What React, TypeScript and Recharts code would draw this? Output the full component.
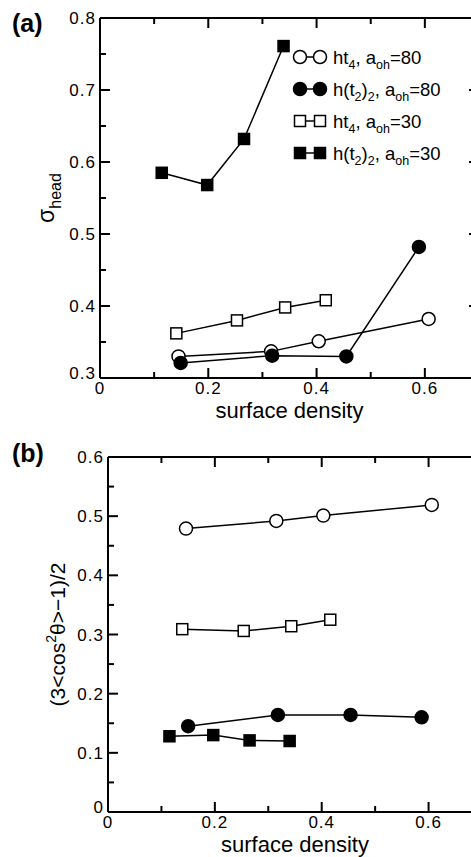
import React from 'react';
import { LineChart, Line, XAxis, YAxis, Legend, ReferenceLine } from 'recharts';

const FONT = '"Liberation Sans", Arial, Helvetica, sans-serif';

// panel (a): sigma_head vs surface density
const densHt4A80 = [0.145, 0.316, 0.404, 0.607];
const sigmaHt4A80 = [0.33, 0.337, 0.351, 0.382];
const densHt22A80 = [0.149, 0.318, 0.455, 0.589];
const sigmaHt22A80 = [0.321, 0.331, 0.33, 0.482];
const densHt4A30 = [0.141, 0.253, 0.342, 0.417];
const sigmaHt4A30 = [0.362, 0.38, 0.398, 0.408];
const densHt22A30 = [0.114, 0.198, 0.266, 0.339];
const sigmaHt22A30 = [0.585, 0.568, 0.632, 0.761];

// panel (b): (3<cos^2 theta>-1)/2 vs surface density
const densHt4A80b = [0.146, 0.315, 0.403, 0.606];
const orderHt4A80 = [0.479, 0.492, 0.501, 0.519];
const densHt22A80b = [0.15, 0.318, 0.454, 0.587];
const orderHt22A80 = [0.145, 0.164, 0.164, 0.16];
const densHt4A30b = [0.139, 0.254, 0.343, 0.416];
const orderHt4A30 = [0.309, 0.306, 0.314, 0.325];
const densHt22A30b = [0.115, 0.197, 0.265, 0.34];
const orderHt22A30 = [0.128, 0.13, 0.121, 0.12];

const xDomain = [0, 0.7];
const yDomainA = [0.3, 0.8];
const yDomainB = [0, 0.6];
const xTicks = [0, 0.2, 0.4, 0.6];
const xMinorTicks = [0.1, 0.3, 0.5, 0.7];
const yTicksA = [0.3, 0.4, 0.5, 0.6, 0.7, 0.8];
const yMinorTicksA = [0.35, 0.45, 0.55, 0.65, 0.75];
const yTicksB = [0, 0.1, 0.2, 0.3, 0.4, 0.5, 0.6];
const yMinorTicksB = [0.05, 0.15, 0.25, 0.35, 0.45, 0.55];

type Part = [string, boolean];
const series = [
  { name: 'ht4_80', shape: 'circle', filled: false, label: [['ht', false], ['4', true], [', a', false], ['oh', true], ['=80', false]] as Part[] },
  { name: 'ht22_80', shape: 'circle', filled: true, label: [['h(t', false], ['2', true], [')', false], ['2', true], [', a', false], ['oh', true], ['=80', false]] as Part[] },
  { name: 'ht4_30', shape: 'square', filled: false, label: [['ht', false], ['4', true], [', a', false], ['oh', true], ['=30', false]] as Part[] },
  { name: 'ht22_30', shape: 'square', filled: true, label: [['h(t', false], ['2', true], [')', false], ['2', true], [', a', false], ['oh', true], ['=30', false]] as Part[] },
];

const toPoints = (xs: number[], ys: number[]) => xs.map((x, i) => ({ x, y: ys[i] }));

const dataA = [
  toPoints(densHt4A80, sigmaHt4A80),
  toPoints(densHt22A80, sigmaHt22A80),
  toPoints(densHt4A30, sigmaHt4A30),
  toPoints(densHt22A30, sigmaHt22A30),
];
const dataB = [
  toPoints(densHt4A80b, orderHt4A80),
  toPoints(densHt22A80b, orderHt22A80),
  toPoints(densHt4A30b, orderHt4A30),
  toPoints(densHt22A30b, orderHt22A30),
];

const MAJOR = 10;
const MINOR = 6;
const TICK_W = 2;

const Marker = ({ cx, cy, shape, filled }: any) =>
  shape === 'circle' ? (
    <circle cx={cx} cy={cy} r={6.5} fill={filled ? '#000' : '#fff'} stroke="#000" strokeWidth={1.5} />
  ) : (
    <rect x={cx - 5.5} y={cy - 5.5} width={11} height={11} fill={filled ? '#000' : '#fff'} stroke="#000" strokeWidth={1.5} />
  );

const fmt = (v: number) => (v === 0 ? '0' : v.toFixed(1));

// tick text; tickSize is negative (inward) so the given coord sits MAJOR px inside the plot
const BottomLabel = ({ x, y, payload }: any) => (
  <text x={x} y={y + MAJOR + 16} textAnchor="middle" fontSize={17} letterSpacing={1} fontFamily={FONT} fill="#000">
    {fmt(payload.value)}
  </text>
);

const makeLeftLabel = (lo: number) => ({ x, y, payload }: any) => {
  const shift = Math.abs(payload.value - lo) < 1e-6 ? -5 : 0;
  return (
    <text x={x - MAJOR - 4} y={y + shift} dy="0.36em" textAnchor="end" fontSize={17} letterSpacing={1} fontFamily={FONT} fill="#000">
      {fmt(payload.value)}
    </text>
  );
};

// mirrored tick marks on the top/right frame plus minor ticks everywhere
const XTickShape = ({ x1, y1, y2, len, both }: any) => {
  const yb = Math.max(Number(y1), Number(y2));
  const yt = Math.min(Number(y1), Number(y2));
  const x = Number(x1);
  return (
    <g>
      {both && <line x1={x} x2={x} y1={yb} y2={yb - len} stroke="#000" strokeWidth={TICK_W} />}
      <line x1={x} x2={x} y1={yt} y2={yt + len} stroke="#000" strokeWidth={TICK_W} />
    </g>
  );
};

const YTickShape = ({ x1, x2, y1, len, both }: any) => {
  const xl = Math.min(Number(x1), Number(x2));
  const xr = Math.max(Number(x1), Number(x2));
  const y = Number(y1);
  return (
    <g>
      {both && <line x1={xl} x2={xl + len} y1={y} y2={y} stroke="#000" strokeWidth={TICK_W} />}
      <line x1={xr} x2={xr - len} y1={y} y2={y} stroke="#000" strokeWidth={TICK_W} />
    </g>
  );
};

const XLabel = ({ viewBox }: any) => (
  <text x={viewBox.x + viewBox.width / 2} y={viewBox.y + 39.5} textAnchor="middle" fontSize={22} fontFamily={FONT} fill="#000">
    surface density
  </text>
);

const SigmaLabel = ({ viewBox }: any) => {
  const cx = viewBox.x + 54;
  const cy = viewBox.y + viewBox.height / 2;
  return (
    <text x={cx} y={cy} transform={`rotate(-90, ${cx}, ${cy})`} textAnchor="middle" fontSize={23} fontFamily={FONT} fill="#000">
      σ
      <tspan dy={7} fontSize={16}>head</tspan>
    </text>
  );
};

const OrderLabel = ({ viewBox }: any) => {
  const cx = viewBox.x + 65;
  const cy = viewBox.y + viewBox.height / 2;
  return (
    <text x={cx} y={cy} transform={`rotate(-90, ${cx}, ${cy})`} textAnchor="middle" fontSize={21} fontFamily={FONT} fill="#000">
      (3&lt;cos
      <tspan dy={-9} fontSize={14}>2</tspan>
      <tspan dy={9}>θ&gt;−1)/2</tspan>
    </text>
  );
};

const LegendBox = ({ payload }: any) => {
  const names = (payload ?? []).map((e: any) => e.value);
  return (
    <svg width={180} height={130} style={{ overflow: 'visible' }}>
      {series
        .filter((s) => names.includes(s.name))
        .map((s, i) => {
          const cy = 17 + i * 32;
          return (
            <g key={s.name}>
              <line x1={10} x2={30} y1={cy} y2={cy} stroke="#000" strokeWidth={1.5} />
              <Marker cx={10} cy={cy} shape={s.shape} filled={s.filled} />
              <Marker cx={30} cy={cy} shape={s.shape} filled={s.filled} />
              <text x={43} y={cy + 7} fontSize={18.5} fontFamily={FONT} fill="#000">
                {s.label.map(([t, sub]: Part, j: number) => {
                  const prevSub = j > 0 && s.label[j - 1][1];
                  const dy = sub && !prevSub ? 5 : !sub && prevSub ? -5 : 0;
                  return (
                    <tspan key={j} dy={dy} fontSize={sub ? 12.5 : 18.5}>
                      {t}
                    </tspan>
                  );
                })}
              </text>
            </g>
          );
        })}
    </svg>
  );
};

const axisLine = { stroke: '#000', strokeWidth: 2 };
const tickLine = { stroke: '#000', strokeWidth: TICK_W };

const renderSeries = (data: { x: number; y: number }[][]) =>
  series.map((s, i) => (
    <Line
      key={s.name}
      name={s.name}
      data={data[i]}
      dataKey="y"
      type="linear"
      stroke="#000"
      strokeWidth={1.5}
      activeDot={false}
      isAnimationActive={false}
      dot={(p: any) => <Marker key={`${s.name}-${p.index}`} cx={p.cx} cy={p.cy} shape={s.shape} filled={s.filled} />}
    />
  ));

const renderFrame = (yDomain: number[], yTicks: number[], yMinor: number[]) => [
  <ReferenceLine key="top" y={yDomain[1]} stroke="#000" strokeWidth={2} />,
  <ReferenceLine key="right" x={xDomain[1]} stroke="#000" strokeWidth={2} />,
  ...xTicks.map((v) => (
    <ReferenceLine key={`xt-${v}`} x={v} stroke="none" shape={(p: any) => <XTickShape {...p} len={MAJOR} both={false} />} />
  )),
  ...xMinorTicks.map((v) => (
    <ReferenceLine key={`xm-${v}`} x={v} stroke="none" shape={(p: any) => <XTickShape {...p} len={MINOR} both />} />
  )),
  ...yTicks.map((v) => (
    <ReferenceLine key={`yt-${v}`} y={v} stroke="none" shape={(p: any) => <YTickShape {...p} len={MAJOR} both={false} />} />
  )),
  ...yMinor.map((v) => (
    <ReferenceLine key={`ym-${v}`} y={v} stroke="none" shape={(p: any) => <YTickShape {...p} len={MINOR} both />} />
  )),
];

const App = () => (
  <div style={{ position: 'absolute', left: 0, top: 0, width: 471, height: 857, overflow: 'hidden', background: '#fff', fontFamily: FONT }}>
    <div style={{ position: 'absolute', left: 12, top: 11, fontSize: 25, fontWeight: 'bold', lineHeight: '25px' }}>(a)</div>
    <div style={{ position: 'absolute', left: 12, top: 441, fontSize: 25, fontWeight: 'bold', lineHeight: '25px' }}>(b)</div>

    <div style={{ position: 'absolute', left: 0, top: 0 }}>
      <LineChart width={479} height={430} margin={{ top: 18, right: 0, bottom: 0, left: 0 }}>
        <XAxis dataKey="x" type="number" domain={xDomain} ticks={xTicks} interval={0} tickSize={-MAJOR} tickMargin={0} tickLine={tickLine} axisLine={axisLine} height={52} tick={(p: any) => <BottomLabel {...p} />} label={(p: any) => <XLabel {...p} />} allowDataOverflow />
        <YAxis type="number" domain={yDomainA} ticks={yTicksA} interval={0} tickSize={-MAJOR} tickMargin={0} tickLine={tickLine} axisLine={axisLine} width={100} tick={makeLeftLabel(yDomainA[0])} label={(p: any) => <SigmaLabel {...p} />} allowDataOverflow />
        <Legend layout="vertical" align="center" verticalAlign="middle" content={(p: any) => <LegendBox {...p} />} wrapperStyle={{ left: 290, top: 40, width: 180, height: 130 }} />
        {renderFrame(yDomainA, yTicksA, yMinorTicksA)}
        {renderSeries(dataA)}
      </LineChart>
    </div>

    <div style={{ position: 'absolute', left: 0, top: 430 }}>
      <LineChart width={482} height={427} margin={{ top: 27, right: 0, bottom: 0, left: 0 }}>
        <XAxis dataKey="x" type="number" domain={xDomain} ticks={xTicks} interval={0} tickSize={-MAJOR} tickMargin={0} tickLine={tickLine} axisLine={axisLine} height={45} tick={(p: any) => <BottomLabel {...p} />} label={(p: any) => <XLabel {...p} />} allowDataOverflow />
        <YAxis type="number" domain={yDomainB} ticks={yTicksB} interval={0} tickSize={-MAJOR} tickMargin={0} tickLine={tickLine} axisLine={axisLine} width={108} tick={makeLeftLabel(yDomainB[0])} label={(p: any) => <OrderLabel {...p} />} allowDataOverflow />
        {renderFrame(yDomainB, yTicksB, yMinorTicksB)}
        {renderSeries(dataB)}
      </LineChart>
    </div>
  </div>
);

export default App;
